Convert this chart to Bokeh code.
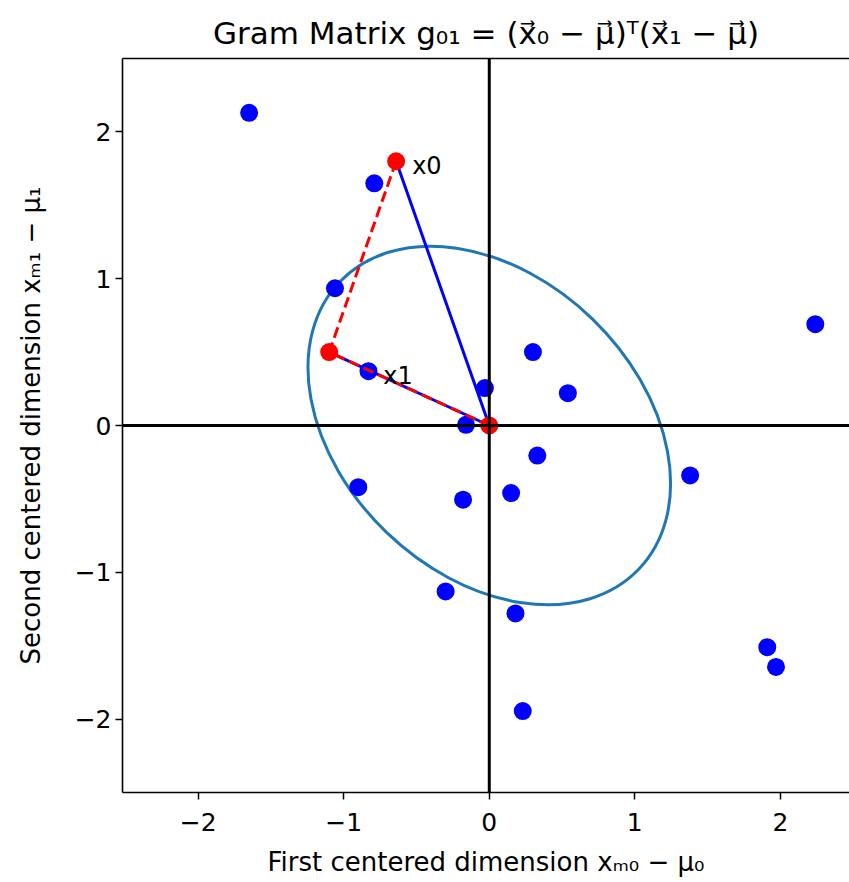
from bokeh.plotting import figure
from bokeh.models import Range1d, FixedTicker, LinearAxis, Span
from bokeh.core.properties import value
from bokeh.embed import file_html
from bokeh.resources import INLINE

# ---- data ----
blue_x = [-1.65, -0.79, -1.06, -0.83, 0.30, -0.03, 0.54, -0.16, 2.24, 0.33,
          -0.90, -0.18, 0.15, 1.38, -0.30, 0.18, 0.23, 1.91, 1.97]
blue_y = [2.13, 1.65, 0.935, 0.37, 0.50, 0.255, 0.22, 0.005, 0.69, -0.205,
          -0.42, -0.505, -0.46, -0.34, -1.13, -1.28, -1.945, -1.51, -1.645]

# red points: x0, x1, mean (origin)
red_names = ["x0", "x1", "mu"]
red_x = [-0.64, -1.10, 0.0]
red_y = [1.80, 0.50, 0.0]

# covariance ellipse (center, full axis lengths, rotation in degrees)
ell_cx, ell_cy = 0.0, 0.0
ell_width, ell_height = 2.85, 2.02
ell_angle = -44.0

tick_values = [-2, -1, 0, 1, 2]
tick_labels = ["\u22122", "\u22121", "0", "1", "2"]

FONT = "DejaVu Sans"

p = figure(width=849, height=882, output_backend="svg", toolbar_location=None,
           x_range=Range1d(-2.52, 2.475), y_range=Range1d(-2.5, 2.5),
           min_border_left=122, min_border_right=0, min_border_top=58,
           min_border_bottom=90)
p.outline_line_color = None
p.grid.visible = False
p.background_fill_color = "white"

p.title.text = "Gram Matrix g\u2080\u2081 = (x\u20d7\u2080 \u2212 \u03bc\u20d7)\u1d40(x\u20d7\u2081 \u2212 \u03bc\u20d7)"
p.title.text_font = FONT
p.title.text_font_size = "31px"
p.title.text_font_style = "normal"
p.title.align = "center"
p.title.text_color = "black"
p.title.standoff = 16

for ax in (p.xaxis[0], p.yaxis[0]):
    ax.ticker = FixedTicker(ticks=tick_values)
    ax.major_label_overrides = {v: s for v, s in zip(tick_values, tick_labels)}
    ax.minor_tick_line_color = None
    ax.major_tick_in = 0
    ax.major_tick_out = 7
    ax.major_tick_line_width = 1.5
    ax.axis_line_width = 1.6
    ax.axis_line_color = "black"
    ax.major_label_text_font = FONT
    ax.major_label_text_font_size = "25px"
    ax.major_label_text_color = "black"
    ax.axis_label_text_font = FONT
    ax.axis_label_text_font_size = "26px"
    ax.axis_label_text_font_style = "normal"
    ax.axis_label_text_color = "black"

p.xaxis.axis_label = "First centered dimension x\u2098\u2080 \u2212 \u03bc\u2080"
p.yaxis.axis_label = "Second centered dimension x\u2098\u2081 \u2212 \u03bc\u2081"
p.xaxis.major_label_standoff = 13
p.yaxis.major_label_standoff = 4
p.xaxis.axis_label_standoff = 13
p.yaxis.axis_label_standoff = 26

top = LinearAxis(ticker=FixedTicker(ticks=[]), major_tick_out=0, major_tick_in=0,
                 minor_tick_line_color=None, major_label_text_font_size="0px",
                 axis_line_width=1.6, axis_line_color="black")
p.add_layout(top, "above")

# ellipse
p.ellipse(x=[ell_cx], y=[ell_cy], width=[ell_width], height=[ell_height],
          angle=[ell_angle], angle_units="deg", fill_color=None,
          line_color="#1f77b4", line_width=3)

# blue data points
p.scatter(blue_x, blue_y, size=18, color="#0000ff", line_color=None)

# vectors from the mean to x0 and x1
mx, my = red_x[2], red_y[2]
for i in (0, 1):
    p.line([mx, red_x[i]], [my, red_y[i]], line_color="#0000ff", line_width=3)

# red dashed: x0 -> x1 -> mean
p.line([red_x[0], red_x[1], red_x[2]], [red_y[0], red_y[1], red_y[2]],
       line_color="#ff0000", line_width=3, line_dash="11 5")

p.scatter(red_x, red_y, size=18, color="#ff0000", line_color=None)

p.text(x=[red_x[0]], y=[red_y[0]], text=["x0"], x_offset=16, y_offset=5,
       text_font=value(FONT), text_font_size="24px", text_baseline="middle",
       text_align="left", text_color="black")
p.text(x=[red_x[1]], y=[red_y[1]], text=["x1"], x_offset=54, y_offset=24,
       text_font=value(FONT), text_font_size="24px", text_baseline="middle",
       text_align="left", text_color="black")

p.add_layout(Span(location=0, dimension="width", line_color="black", line_width=3))
p.add_layout(Span(location=0, dimension="height", line_color="black", line_width=3))

open("out.html", "w").write(file_html(p, INLINE))
